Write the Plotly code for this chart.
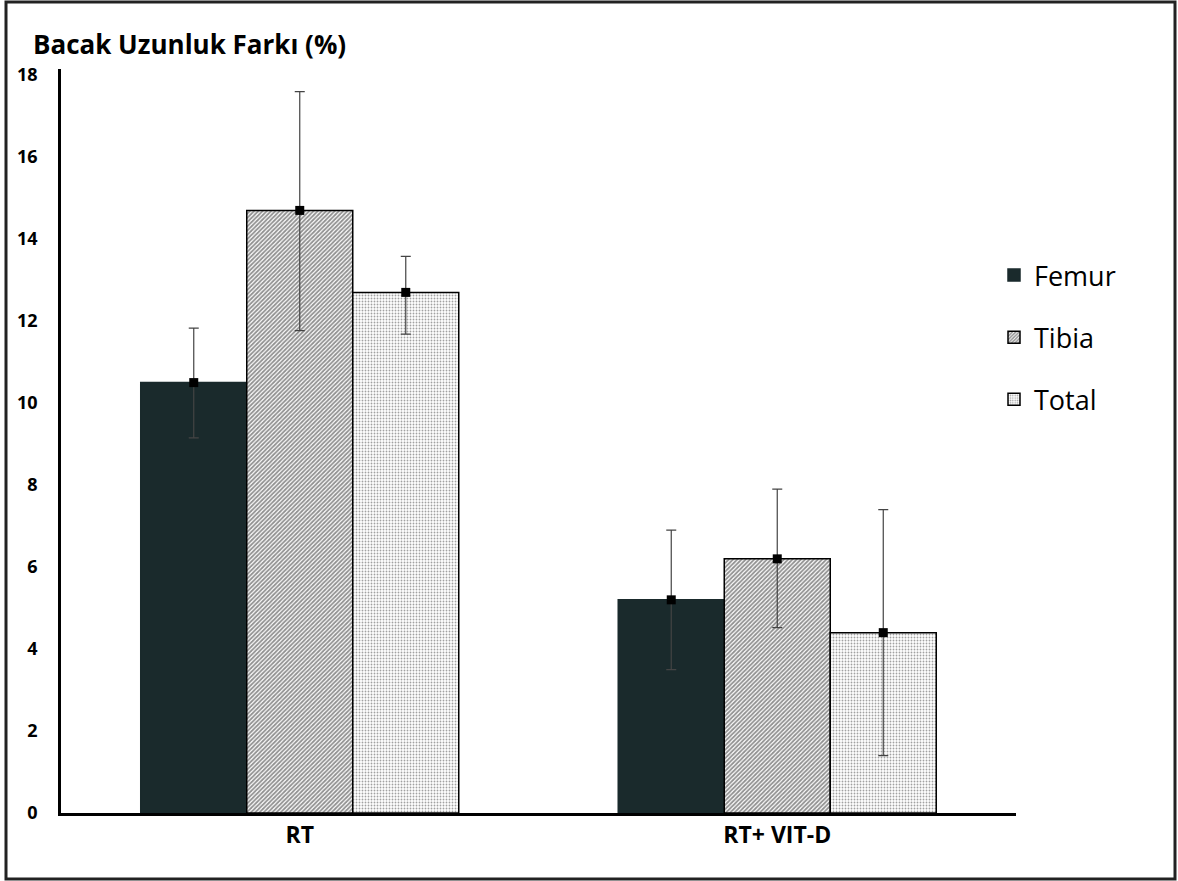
import plotly.graph_objects as go

categories = ["RT", "RT+ VIT-D"]
series = ["Femur", "Tibia", "Total"]
femur = [10.5, 5.2]
tibia = [14.7, 6.2]
total = [12.7, 4.4]
femur_err_plus = [1.33, 1.7]
femur_err_minus = [1.35, 1.7]
tibia_err_plus = [2.9, 1.7]
tibia_err_minus = [2.93, 1.68]
total_err_plus = [0.88, 3.0]
total_err_minus = [1.02, 3.0]
y_ticks = [0, 2, 4, 6, 8, 10, 12, 14, 16, 18]

values = [femur, tibia, total]
err_plus = [femur_err_plus, tibia_err_plus, total_err_plus]
err_minus = [femur_err_minus, tibia_err_minus, total_err_minus]

bar_w = 0.222
offsets = [-bar_w, 0.0, bar_w]

styles = [
    dict(color="#1a2a2c", line=dict(color="#1a2a2c", width=1.5)),
    dict(color="white", line=dict(color="black", width=1.5),
         pattern=dict(shape="/", size=3, solidity=0.6, fgcolor="#222", bgcolor="white")),
    dict(color="white", line=dict(color="black", width=1.5),
         pattern=dict(shape=".", size=3, solidity=0.3, fgcolor="#444", bgcolor="white")),
]

fig = go.Figure()
for j, name in enumerate(series):
    xs = [i + offsets[j] for i in range(len(categories))]
    fig.add_trace(go.Bar(
        x=xs, y=values[j], width=bar_w, name=name, marker=styles[j],
        legendgroup=name,
    ))
for j, name in enumerate(series):
    xs = [i + offsets[j] for i in range(len(categories))]
    fig.add_trace(go.Scatter(
        x=xs, y=values[j], mode="markers", showlegend=False,
        marker=dict(symbol="square", size=9, color="black"),
        error_y=dict(type="data", array=err_plus[j], arrayminus=err_minus[j],
                     symmetric=False, color="#444", thickness=1.2, width=5),
    ))

W, H = 1178, 881
ml, mr, mt, mb = 61, 162, 69, 68
pw, ph = W - ml - mr, H - mt - mb

def px_x(p):
    return (p - ml) / pw

def px_y(p):
    return (H - mb - p) / ph

fig.add_shape(type="rect", xref="paper", yref="paper",
              x0=px_x(6), x1=px_x(1175), y0=px_y(879), y1=px_y(2),
              line=dict(color="#222", width=3), layer="above")

fig.update_layout(
    width=W, height=H,
    margin=dict(l=ml, r=mr, t=mt, b=mb),
    plot_bgcolor="white", paper_bgcolor="white",
    font=dict(family="'Open Sans', sans-serif", color="black"),
    barmode="overlay",
    title=dict(text="<b>Bacak Uzunluk Farkı (%)</b>", xref="container", x=33 / W,
               xanchor="left", yref="container", y=1 - 45 / H, yanchor="middle",
               font=dict(size=26, color="black")),
    legend=dict(x=px_x(994), y=px_y(251), xanchor="left", yanchor="top",
                font=dict(size=27, color="black"), tracegroupgap=24,
                traceorder="grouped", itemwidth=30, bgcolor="rgba(0,0,0,0)"),
    xaxis=dict(range=[-0.5, 1.5], tickvals=list(range(len(categories))),
               ticktext=[f"<b>{c}</b>" for c in categories],
               showline=True, linecolor="black", linewidth=2.5,
               showgrid=False, zeroline=False, ticks="",
               tickfont=dict(size=23)),
    yaxis=dict(range=[0, 18.15], tickvals=y_ticks,
               ticktext=[f"<b>{t}</b>" for t in y_ticks],
               showline=True, linecolor="black", linewidth=2.5,
               showgrid=False, zeroline=False, ticks="outside", ticklen=17,
               tickcolor="rgba(0,0,0,0)", tickfont=dict(size=18)),
)

fig.write_html("out.html", config={"displayModeBar": False},
               post_script="document.body.style.margin='0';document.body.style.padding='0';")
